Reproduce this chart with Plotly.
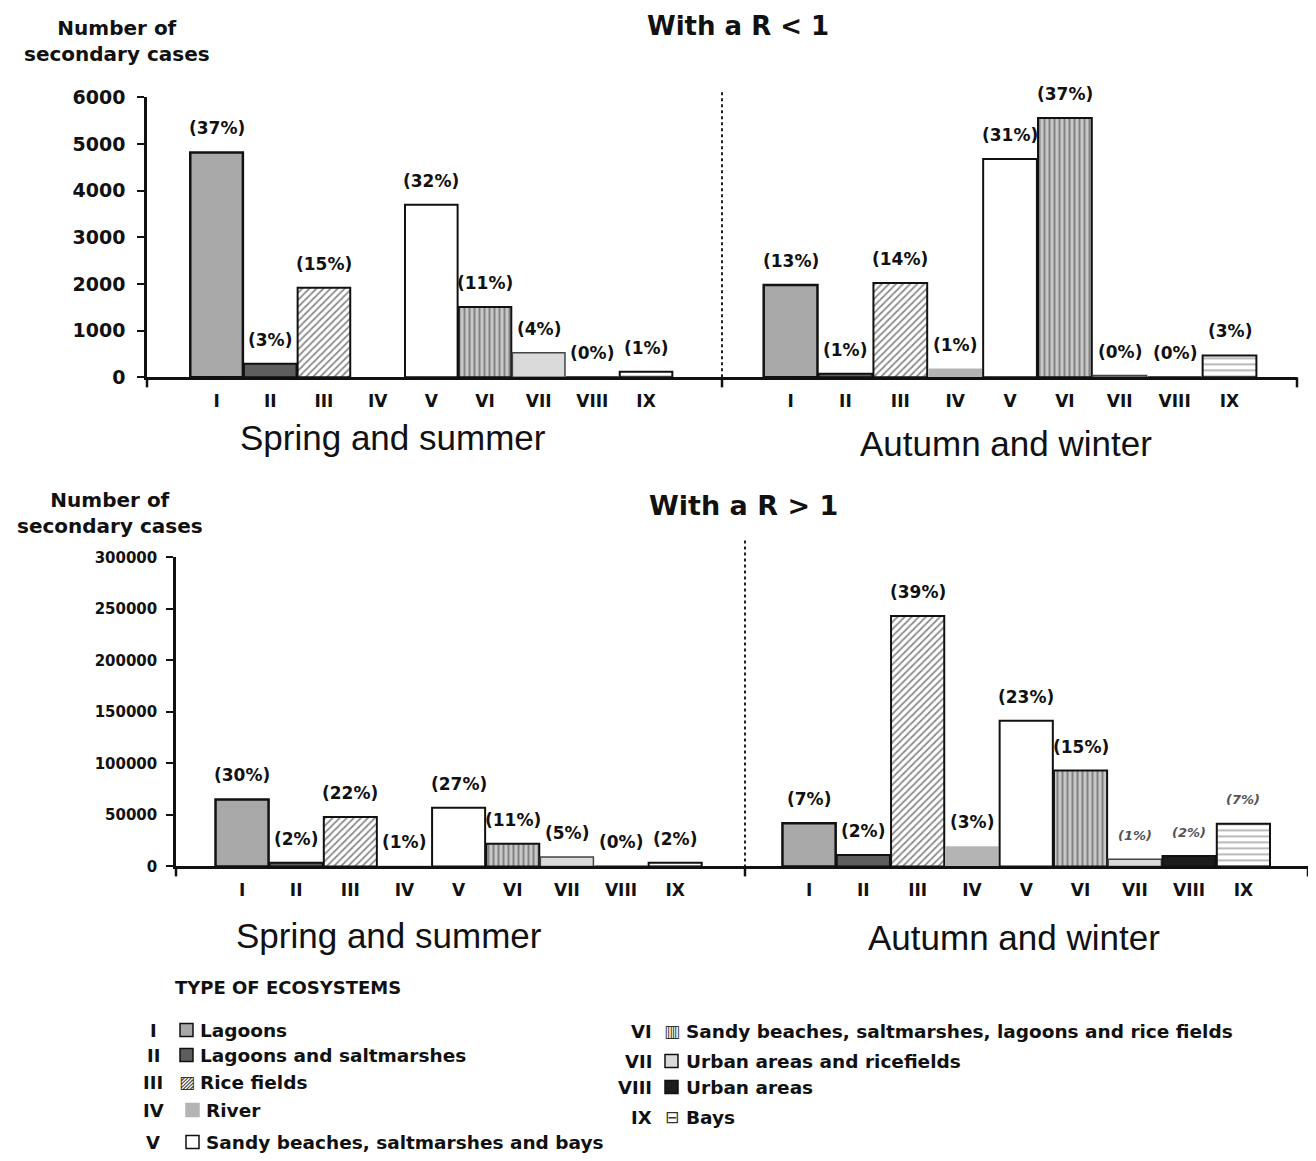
import plotly.graph_objects as go

# The figure sits inside the page's 8px body margin; the vertical mapping below
# converts reference pixel positions into figure coordinates (measured offset/scale).
OFF_X = 8
FW, FH = 1300, 1160
V_SCALE = 0.981
V_OFF = 19

# ---------------- data ----------------
categories = ["I", "II", "III", "IV", "V", "VI", "VII", "VIII", "IX"]
ecosystems = ["Lagoons", "Lagoons and saltmarshes", "Rice fields", "River",
              "Sandy beaches, saltmarshes and bays",
              "Sandy beaches, saltmarshes, lagoons and rice fields",
              "Urban areas and ricefields", "Urban areas", "Bays"]

r_lt1_spring = [4820, 290, 1920, 0, 3700, 1510, 530, 0, 120]
r_lt1_autumn = [1980, 80, 2020, 190, 4680, 5560, 40, 0, 470]
r_gt1_spring = [65000, 3500, 48000, 600, 57000, 22000, 9000, 0, 3500]
r_gt1_autumn = [42000, 11000, 243000, 19500, 141500, 93000, 7000, 10000, 41500]

pct_lt1_spring = ["(37%)", "(3%)", "(15%)", "", "(32%)", "(11%)", "(4%)", "(0%)", "(1%)"]
pct_lt1_autumn = ["(13%)", "(1%)", "(14%)", "(1%)", "(31%)", "(37%)", "(0%)", "(0%)", "(3%)"]
pct_gt1_spring = ["(30%)", "(2%)", "(22%)", "(1%)", "(27%)", "(11%)", "(5%)", "(0%)", "(2%)"]
pct_gt1_autumn = ["(7%)", "(2%)", "(39%)", "(3%)", "(23%)", "(15%)", "(1%)", "(2%)", "(7%)"]

top_ticks = [0, 1000, 2000, 3000, 4000, 5000, 6000]
bottom_ticks = [0, 50000, 100000, 150000, 200000, 250000, 300000]

# ---------------- styles ----------------
fill = ["#a8a8a8", "#5e5e5e", "#ffffff", "#b4b4b4", "#ffffff", "#c8c8c8", "#dadada", "#1c1c1c", "#ffffff"]
line_col = ["#111", "#111", "#111", "#b4b4b4", "#111", "#111", "#444", "#111", "#111"]
line_w = [2.5, 2, 2, 0, 2, 2, 1.5, 2, 2]
pattern = {
    "III": dict(shape="/", fgcolor="#1a1a1a", bgcolor="#ffffff", size=5, solidity=0.35),
    "VI": dict(shape="|", fgcolor="#3c3c3c", bgcolor="#c8c8c8", size=5, solidity=0.4),
    "IX": dict(shape="-", fgcolor="#777777", bgcolor="#ffffff", size=6, solidity=0.35),
}

BOLD = dict(family="DejaVu Sans", weight="bold", color="#111")


def px(x):
    return (x - OFF_X) / FW


def py(y):
    return 1 - (y / V_SCALE - V_OFF) / FH


fig = go.Figure()

panels = [
    (r_lt1_spring, pct_lt1_spring, "x", "y"),
    (r_lt1_autumn, pct_lt1_autumn, "x2", "y"),
    (r_gt1_spring, pct_gt1_spring, "x3", "y2"),
    (r_gt1_autumn, pct_gt1_autumn, "x4", "y2"),
]

annotations = []
for k, (vals, labs, xa, ya) in enumerate(panels):
    for i, (c, v, t) in enumerate(zip(categories, vals, labs)):
        marker = dict(color=fill[i], line=dict(color=line_col[i], width=line_w[i]))
        if c in pattern:
            marker["pattern"] = pattern[c]
        fig.add_trace(go.Bar(x=[c], y=[v], xaxis=xa, yaxis=ya, showlegend=False,
                             marker=marker, name=ecosystems[i]))
        if not t:
            continue
        italic = (k == 3 and c in ("VII", "VIII", "IX"))
        f = dict(family="DejaVu Sans", weight="bold", size=17, color="#111")
        if italic:
            f = dict(family="DejaVu Sans", weight="bold", style="italic", size=13, color="#555")
        annotations.append(dict(x=c, y=v, xref=xa, yref=ya, text=t, showarrow=False,
                                yanchor="middle", yshift=24, font=f))

axis_common = dict(showgrid=False, zeroline=False, showline=True, linecolor="#111",
                   linewidth=2.5, fixedrange=True)
xcommon = dict(axis_common, type="category", ticks="", ticklabelstandoff=6,
               categoryorder="array", categoryarray=categories,
               tickfont=dict(family="DejaVu Sans", weight="bold", size=17, color="#111"))

fig.update_layout(
    width=FW, height=FH, margin=dict(l=0, r=0, t=0, b=0),
    paper_bgcolor="white", plot_bgcolor="rgba(0,0,0,0)",
    barmode="overlay", bargap=0.02,
    xaxis=dict(xcommon, domain=[px(147), px(722)], range=[-1.296, 9.415], anchor="y"),
    xaxis2=dict(xcommon, domain=[px(722), px(1297)], range=[-1.25, 9.23], anchor="y"),
    xaxis3=dict(xcommon, domain=[px(176), px(745)], range=[-1.22, 9.29], anchor="y2"),
    xaxis4=dict(xcommon, domain=[px(745), px(1308)], range=[-1.18, 9.19], anchor="y2"),
    yaxis=dict(axis_common, domain=[py(377), py(97)], range=[0, 6000], anchor="x",
               tickvals=top_ticks, tickformat="d", ticks="outside", ticklen=7, tickwidth=2,
               tickcolor="#111", ticklabelstandoff=8,
               tickfont=dict(family="DejaVu Sans", weight="bold", size=19, color="#111")),
    yaxis2=dict(axis_common, domain=[py(866), py(557)], range=[0, 300000], anchor="x3",
                tickvals=bottom_ticks, tickformat="d", ticks="outside", ticklen=7, tickwidth=2,
                tickcolor="#111", ticklabelstandoff=6,
                tickfont=dict(family="DejaVu Sans", weight="bold", size=15, color="#111")),
)


# ---------------- text ----------------
def txt(x, y, text, font, xanchor="center", yanchor="middle", pad=1):
    annotations.append(dict(x=px(x), y=py(y), xref="paper", yref="paper", text=text,
                            showarrow=False, xanchor=xanchor, yanchor=yanchor, font=font,
                            borderpad=pad))


txt(117, 41, "Number of<br>secondary cases", dict(BOLD, size=20))
txt(110, 513, "Number of<br>secondary cases", dict(BOLD, size=20))
txt(738, 26, "With a R &lt; 1", dict(BOLD, size=26), pad=0)
txt(743, 505, "With a R &gt; 1", dict(BOLD, size=27))
SEASON = dict(family="Liberation Sans", size=35, color="#111")
txt(393, 437, "Spring and summer", SEASON)
txt(1006, 443, "Autumn and winter", SEASON)
txt(389, 935, "Spring and summer", SEASON)
txt(1014, 937, "Autumn and winter", SEASON)

# legend
txt(173, 987, "TYPE OF ECOSYSTEMS", dict(BOLD, size=18), xanchor="left")
left_rows = [1030, 1055, 1082, 1110, 1142]
right_rows = [1031, 1061, 1087, 1117]
shapes = []
glyph = {"III": "\u25A8", "VI": "\u25A5", "IX": "\u229F"}
for i, c in enumerate(categories):
    if i < 5:
        y = left_rows[i]
        sx = 180 if i < 3 else 186
        tx = 198 if i < 3 else 204
        txt(153, y, c, dict(BOLD, size=18))
    else:
        y = right_rows[i - 5]
        sx = 665
        tx = 684
        txt(654, y, c, dict(BOLD, size=18), xanchor="right")
    if c in glyph:
        txt(sx + 7, y, glyph[c], dict(family="DejaVu Sans", size=17, color="#333"))
    else:
        shapes.append(dict(type="rect", xref="paper", yref="paper",
                           x0=px(sx), x1=px(sx + 13), y0=py(y + 6), y1=py(y - 7),
                           fillcolor=fill[i],
                           line=dict(color="#111" if line_w[i] > 0 else fill[i], width=1.5)))
    txt(tx, y, ecosystems[i], dict(BOLD, size=18.5), xanchor="left")

# dividers and small edge ticks
for x, ytop, ybot in [(722, 92, 377), (745, 540, 866)]:
    shapes.append(dict(type="line", xref="paper", yref="paper", x0=px(x), x1=px(x),
                       y0=py(ytop), y1=py(ybot), line=dict(color="#222", width=2, dash="dot")))
for x, yax in [(147, 377), (722, 377), (1297, 377), (176, 866), (745, 866), (1308, 866)]:
    shapes.append(dict(type="line", xref="paper", yref="paper", x0=px(x), x1=px(x),
                       y0=py(yax), y1=py(yax + 10), line=dict(color="#111", width=2.5)))

fig.update_layout(annotations=annotations, shapes=shapes)
fig.write_html("out.html")
